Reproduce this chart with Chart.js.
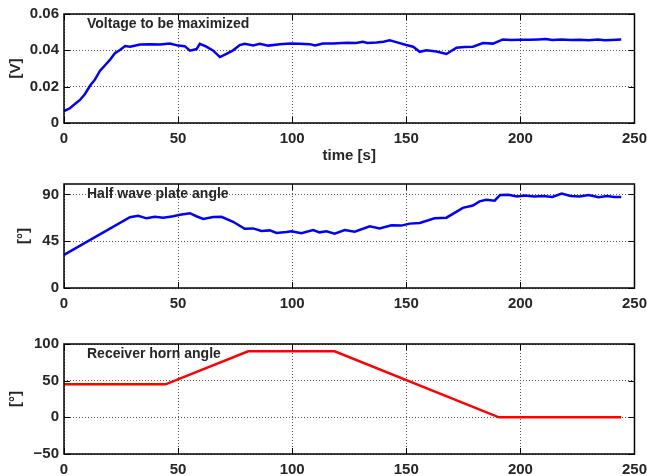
<!DOCTYPE html>
<html>
<head>
<meta charset="utf-8">
<script src="https://cdn.jsdelivr.net/npm/chart.js@4.4.0/dist/chart.umd.min.js"></script>
<style>
  html, body { margin: 0; padding: 0; background: #fff; }
  body { width: 647px; height: 476px; position: relative; overflow: hidden; }
  .panel { position: absolute; left: 0; width: 647px; }
</style>
</head>
<body>
<div class="panel" style="top:0;height:170px"><canvas id="voltChart"></canvas></div>
<div class="panel" style="top:170px;height:145px"><canvas id="plateChart"></canvas></div>
<div class="panel" style="top:315px;height:161px"><canvas id="hornChart"></canvas></div>
<script>
// ---- data ----
const timeTicks = [0, 50, 100, 150, 200, 250];

const voltTime = [0, 2.6, 4.8, 7, 9.2, 11.4, 13.6, 15.8, 18, 20.1, 22.3, 24.5, 26.8, 29, 33.3, 37.7, 42.1, 46.4, 50,
  52.9, 55.2, 58.1, 59.5, 62.4, 65.4, 68.3, 71.2, 74.1, 77, 79.2, 82.9, 85.8, 89.5, 94.6, 99, 103.3, 107.7, 110,
  113.5, 118, 124, 128, 131, 133, 137, 140, 142.7, 146, 150, 153, 155.9, 158.8, 163.2, 167.6, 172, 175.5, 179.2,
  183.6, 188, 192.3, 196, 200, 204, 208, 211, 214, 218, 222, 226, 230, 234, 237, 240, 244.2];
const voltValues = [0.0066, 0.0081, 0.0105, 0.0127, 0.016, 0.0205, 0.024, 0.0288, 0.0318, 0.0347, 0.0384, 0.0402,
  0.0424, 0.042, 0.0432, 0.0434, 0.0432, 0.0438, 0.0426, 0.0423, 0.0398, 0.0407, 0.0436, 0.042, 0.0398, 0.0363,
  0.038, 0.04, 0.0429, 0.0436, 0.0427, 0.0436, 0.0426, 0.0434, 0.0438, 0.0436, 0.0434, 0.0427, 0.0438, 0.0437,
  0.0442, 0.044, 0.0447, 0.0441, 0.0443, 0.0447, 0.0455, 0.0444, 0.0429, 0.042, 0.0392, 0.04, 0.0394, 0.038,
  0.0414, 0.0418, 0.042, 0.044, 0.0437, 0.046, 0.0457, 0.0458, 0.0458, 0.046, 0.0462, 0.0457, 0.0459, 0.0457,
  0.0458, 0.0456, 0.0459, 0.0455, 0.0457, 0.046];

const plateTime = [0, 28.9, 32.5, 36.2, 39.8, 43.5, 47.9, 50.8, 55.2, 58, 61, 65.4, 69, 74.1, 79.2, 82.9, 86.5,
  90.2, 93.1, 97.5, 99.7, 104, 109.2, 112, 115, 118.6, 123, 127.4, 134, 138.3, 143.5, 147.8, 151.5, 155.9, 162.4,
  167.6, 174.8, 179.2, 182.1, 185, 188.7, 191.1, 194.8, 198.5, 202, 206, 210, 214, 218.1, 222, 226, 229.9,
  234.3, 238, 241, 244.2];
const plateValues = [31.9, 68, 69.5, 67, 68.6, 67.5, 69, 70.4, 71.9, 69, 66.4, 68.2, 68.5, 63.7, 57, 57.3, 54.8,
  55.4, 53, 53.9, 54.5, 52.7, 55.7, 53.5, 54.5, 52.3, 55.7, 54.2, 59.4, 57.2, 60.3, 60, 61.9, 62.5, 67, 67.6,
  77.1, 79.3, 83.3, 84.8, 84, 89.4, 89.7, 88, 89, 88, 88.5, 87.5, 90.9, 88.5, 88, 89.5, 87.2, 88.5, 87.5, 87.5];

const hornTime = [0, 44.5, 80.7, 118.6, 190.6, 244.2];
const hornValues = [45, 45, 90, 90, 0, 0];

const voltTicks = [0, 0.02, 0.04, 0.06];
const plateTicks = [0, 45, 90];
const hornTicks = [-50, 0, 50, 100];

Chart.defaults.font.family = '"Liberation Sans", Arial, Helvetica, sans-serif';
Chart.defaults.font.size = 15;
Chart.defaults.font.weight = 'bold';
Chart.defaults.color = '#262626';

// box, inward tick marks and the label inside each panel
const matlabBox = {
  id: 'matlabBox',
  afterDraw(chart, args, opts) {
    const { ctx, chartArea: a, scales } = chart;
    ctx.save();
    ctx.strokeStyle = '#000';
    ctx.lineWidth = 1.5;
    ctx.strokeRect(a.left, a.top, a.right - a.left, a.bottom - a.top);
    ctx.lineWidth = 1;
    ctx.beginPath();
    scales.x.ticks.forEach(t => {
      const px = Math.round(scales.x.getPixelForValue(t.value)) + 0.5;
      ctx.moveTo(px, a.bottom); ctx.lineTo(px, a.bottom - 6);
      ctx.moveTo(px, a.top); ctx.lineTo(px, a.top + 6);
    });
    scales.y.ticks.forEach(t => {
      const py = Math.round(scales.y.getPixelForValue(t.value)) + 0.5;
      ctx.moveTo(a.left, py); ctx.lineTo(a.left + 6, py);
      ctx.moveTo(a.right, py); ctx.lineTo(a.right - 6, py);
    });
    ctx.stroke();
    ctx.fillStyle = '#262626';
    ctx.font = 'bold 14px "Liberation Sans", Arial, sans-serif';
    ctx.textBaseline = 'alphabetic';
    ctx.fillText(opts.label, a.left + 23, a.top + 14);
    ctx.restore();
  }
};

function makePanel(id, times, values, color, yTicks, yMin, yMax, opt) {
  const points = times.map((t, i) => ({ x: t, y: values[i] }));
  new Chart(document.getElementById(id), {
    type: 'line',
    data: {
      datasets: [{
        data: points,
        borderColor: color,
        borderWidth: 2.5,
        pointRadius: 0,
        tension: 0,
        clip: false
      }]
    },
    options: {
      responsive: true,
      maintainAspectRatio: false,
      animation: false,
      layout: { padding: { top: opt.top, right: 12, left: 0, bottom: 0 } },
      plugins: {
        legend: { display: false },
        tooltip: { enabled: false },
        matlabBox: { label: opt.label }
      },
      scales: {
        x: {
          type: 'linear',
          min: 0,
          max: 250,
          afterBuildTicks: s => { s.ticks = timeTicks.map(v => ({ value: v })); },
          afterFit: s => { s.height = opt.xHeight; },
          ticks: { padding: 0, maxRotation: 0, autoSkip: false },
          // invisible tick marks only push the labels down
          grid: { color: '#555', drawTicks: true, tickLength: 7, tickColor: 'rgba(0,0,0,0)' },
          border: { display: false, dash: [1, 2] },
          title: {
            display: !!opt.xTitle,
            text: opt.xTitle || '',
            padding: { top: 0, bottom: 5 }
          }
        },
        y: {
          min: yMin,
          max: yMax,
          afterBuildTicks: s => { s.ticks = yTicks.map(v => ({ value: v })); },
          afterFit: s => { s.width = 64; },
          ticks: { padding: 5, autoSkip: false, callback: v => String(v).replace('-', '\u2212') },
          grid: { color: '#555', drawTicks: false },
          border: { display: false, dash: [1, 2] },
          title: { display: true, text: opt.yTitle, padding: { top: opt.yTitlePad, bottom: 0 } }
        }
      }
    },
    plugins: [matlabBox]
  });
}

makePanel('voltChart', voltTime, voltValues, '#0000ff', voltTicks, 0, 0.06,
  { top: 14, xHeight: 47, xTitle: 'time [s]', yTitle: '[V]', yTitlePad: 7, label: 'Voltage to be maximized' });
makePanel('plateChart', plateTime, plateValues, '#0000ff', plateTicks, 0, 100,
  { top: 9, xHeight: 27, yTitle: '[°]', yTitlePad: 15, label: 'Half wave plate angle' });
makePanel('hornChart', hornTime, hornValues, '#ff0000', hornTicks, -50, 100,
  { top: 29, xHeight: 22, yTitle: '[°]', yTitlePad: 7, label: 'Receiver horn angle' });
</script>
</body>
</html>
